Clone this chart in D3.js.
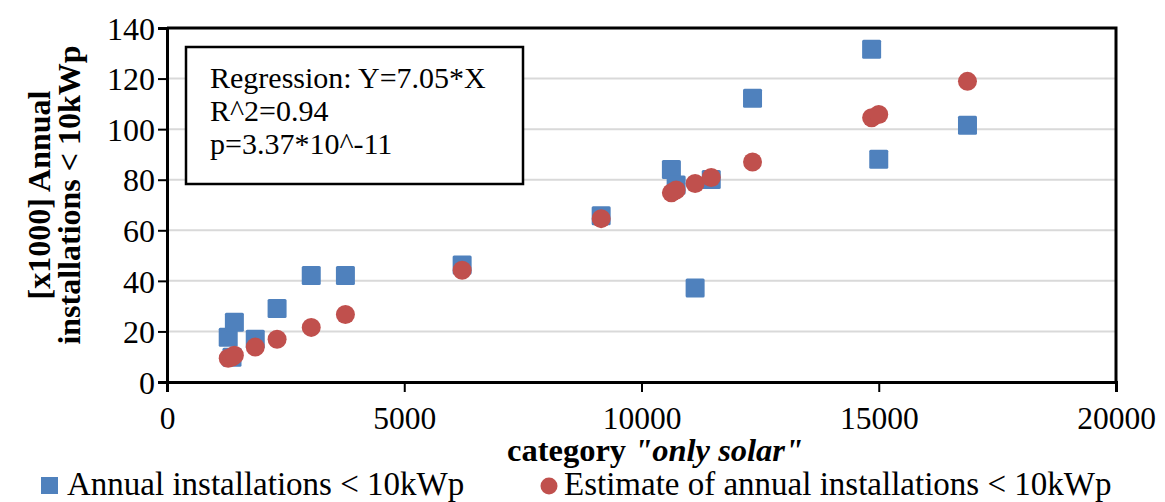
<!DOCTYPE html>
<html><head><meta charset="utf-8">
<script src="https://cdn.jsdelivr.net/npm/d3@7"></script>
<style>
html,body{margin:0;padding:0;background:#fff;}
svg{display:block;}
text{font-family:"Liberation Serif","Times New Roman",serif;fill:#000;}
</style></head>
<body>
<svg id="chart" width="1165" height="502"></svg>
<script>
// ---- data ----
const categoryOnlySolar = [1290, 1370, 1420, 1860, 2320, 3040, 3760, 6220, 9150, 10630, 10730, 11130, 11470, 12340, 14850, 15000, 16870];
const annualInstallations = [17.7, 9.8, 23.6, 16.9, 29.1, 42.1, 42.1, 46.3, 65.7, 84.0, 77.9, 37.2, 80.1, 112.2, 131.6, 88.1, 101.5];
const estimateInstallations = [9.4, 9.9, 10.6, 13.8, 16.9, 21.6, 26.7, 44.2, 64.6, 74.8, 75.9, 78.5, 80.9, 87.0, 104.5, 105.8, 118.9];
const xTicks = [0, 5000, 10000, 15000, 20000];
const yTicks = [0, 20, 40, 60, 80, 100, 120, 140];
const seriesNames = ["Annual installations < 10kWp", "Estimate of annual installations < 10kWp"];
const regressionLines = ["Regression: Y=7.05*X", "R^2=0.94", "p=3.37*10^-11"];

// ---- layout ----
const svg = d3.select("#chart");
const L = 167, R = 1116, T = 28, B = 382;
const x = d3.scaleLinear().domain([0, 20000]).range([L, R]);
const y = d3.scaleLinear().domain([0, 140]).range([B, T]);
const blue = "#4F81BD", red = "#C0504D";
const FF = "'Liberation Serif','Times New Roman',serif";

// gridlines
svg.append("g").selectAll("line").data(yTicks.filter(d => d > 0 && d < 140)).join("line")
  .attr("x1", L).attr("x2", R).attr("y1", d => y(d)).attr("y2", d => y(d))
  .attr("stroke", "#D9D9D9").attr("stroke-width", 2);

// plot border top/right
svg.append("path").attr("d", `M${L},${T}H${R}V${B}`).attr("fill", "none")
  .attr("stroke", "#000").attr("stroke-width", 3);

// axes
const xAxis = svg.append("g").attr("transform", `translate(0,${B})`)
  .call(d3.axisBottom(x).tickValues(xTicks).tickFormat(d3.format("d")).tickSizeOuter(0).tickSize(10));
const yAxis = svg.append("g").attr("transform", `translate(${L},0)`)
  .call(d3.axisLeft(y).tickValues(yTicks).tickSizeOuter(0).tickSize(9).tickPadding(3));
[xAxis, yAxis].forEach(g => {
  g.select(".domain").attr("stroke", "#000").attr("stroke-width", 3);
  g.selectAll(".tick line").attr("stroke", "#000").attr("stroke-width", 2);
  g.selectAll(".tick text").attr("font-family", FF).attr("font-size", 32).attr("fill", "#000");
});
xAxis.selectAll(".tick text").attr("font-size", 31.5).attr("y", 47).attr("dy", 0);
yAxis.selectAll(".tick text").attr("dy", "0.35em");

// regression text box
const box = svg.append("g");
box.append("rect").attr("x", 186).attr("y", 47).attr("width", 337).attr("height", 137)
  .attr("fill", "#fff").attr("stroke", "#000").attr("stroke-width", 2.5);
box.selectAll("text").data(regressionLines).join("text")
  .attr("x", 210).attr("y", (d, i) => 88 + i * 33)
  .attr("font-size", 30).text(d => d);

// points
const pts = categoryOnlySolar.map((c, i) => ({c, a: annualInstallations[i], e: estimateInstallations[i]}));
const S = 19;
svg.append("g").selectAll("rect").data(pts).join("rect")
  .attr("x", d => x(d.c) - S / 2).attr("y", d => y(d.a) - S / 2)
  .attr("width", S).attr("height", S).attr("rx", 1.5).attr("fill", blue);
svg.append("g").selectAll("circle").data(pts).join("circle")
  .attr("cx", d => x(d.c)).attr("cy", d => y(d.e)).attr("r", 9.5).attr("fill", red);

// axis titles
const xt = svg.append("text").attr("x", 655).attr("y", 461).attr("text-anchor", "middle")
  .attr("font-size", 32.5).attr("font-weight", "bold");
xt.append("tspan").text("category ");
xt.append("tspan").attr("font-style", "italic").text("\"only solar\"");

const yt = svg.append("text").attr("transform", `translate(50,195) rotate(-90)`)
  .attr("text-anchor", "middle").attr("font-size", 32).attr("font-weight", "bold");
yt.append("tspan").attr("x", 0).attr("dy", 0).text("[x1000] Annual");
yt.append("tspan").attr("x", 0).attr("dy", 30).text("installations < 10kWp");

// legend
const lg = svg.append("g");
lg.append("rect").attr("x", 41).attr("y", 477).attr("width", 17).attr("height", 17).attr("fill", blue);
lg.append("text").attr("x", 67).attr("y", 494.5).attr("font-size", 33).text(seriesNames[0]);
lg.append("circle").attr("cx", 549).attr("cy", 486).attr("r", 8.5).attr("fill", red);
lg.append("text").attr("x", 564).attr("y", 494.5).attr("font-size", 33).text(seriesNames[1]);
</script>
</body></html>
